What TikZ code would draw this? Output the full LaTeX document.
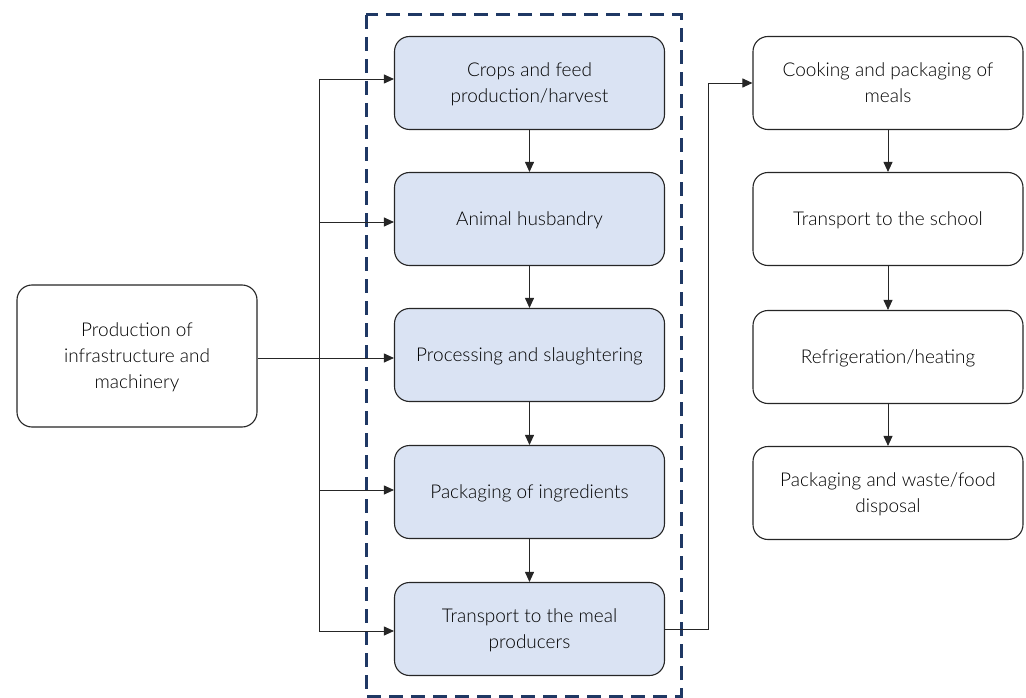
\documentclass[tikz,border=0pt]{standalone}
\usepackage{fontspec}
\setmainfont{Lato Light}
\usetikzlibrary{arrows.meta}
\definecolor{boxblue}{HTML}{DAE3F3}
\definecolor{dashblue}{HTML}{1F3864}
\tikzset{
  stage/.style={draw=black!85, line width=1.1pt, rounded corners=15pt, align=center,
    minimum width=270pt, minimum height=93pt, inner sep=0pt, text depth=0pt,
    font=\fontsize{19}{26}\selectfont, text=black},
  core/.style={stage, fill=boxblue},
  outer/.style={stage, fill=white},
  conn/.style={draw=black!85, line width=0.9pt},
  arr/.style={conn, -{Triangle[length=10pt,width=9pt]}},
}
\begin{document}
\begin{tikzpicture}[x=1pt,y=-1pt]
\useasboundingbox (0,0) rectangle (1026,698);
% dashed frame
\draw[dashblue, line width=3pt, dash pattern=on 14pt off 8pt] (366,15) rectangle (681,696);
% middle column
\node[core] (m1) at (529.5,83) {Crops and feed\\production/harvest};
\node[core] (m2) at (529.5,219) {Animal husbandry};
\node[core] (m3) at (529.5,355) {Processing and slaughtering};
\node[core] (m4) at (529.5,492) {Packaging of ingredients};
\node[core] (m5) at (529.5,629) {Transport to the meal\\producers};
% left box
\node[outer, minimum width=240pt, minimum height=142pt] (l) at (137,356) {Production of\\infrastructure and\\machinery};
% right column
\node[outer] (r1) at (888,83) {Cooking and packaging of\\meals};
\node[outer] (r2) at (888,219) {Transport to the school};
\node[outer] (r3) at (888,357) {Refrigeration/heating};
\node[outer] (r4) at (888,493) {Packaging and waste/food\\disposal};
% vertical arrows
\foreach \a/\b in {m1/m2,m2/m3,m3/m4,m4/m5,r1/r2,r2/r3,r3/r4}
  \draw[arr] (\a.south) -- (\b.north);
% bus
\coordinate (b1) at (319,79);
\coordinate (b2) at (319,222);
\coordinate (b4) at (319,490);
\coordinate (b5) at (319,631);
\draw[conn] (b1) -- (b5);
\draw[arr] (b1) -- (b1 -| m1.west);
\draw[arr] (b2) -- (b2 -| m2.west);
\draw[arr] (l.east |- 0,358) -- (m3.west |- 0,358);
\draw[arr] (b4) -- (b4 -| m4.west);
\draw[arr] (b5) -- (b5 -| m5.west);
% to right column
\coordinate (t1) at (708,629);
\coordinate (t2) at (708,83);
\draw[arr] (m5.east |- t1) -- (t1) -- (t2) -- (r1.west |- t2);
\end{tikzpicture}
\end{document}
